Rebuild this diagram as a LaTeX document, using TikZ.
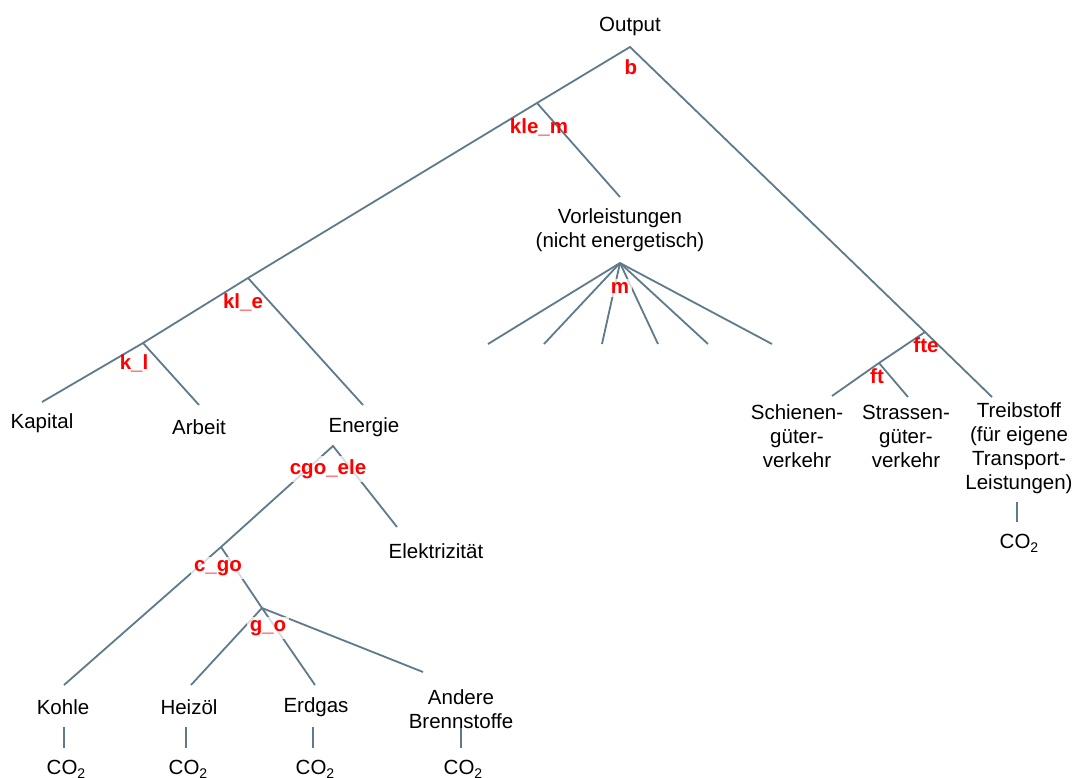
\documentclass[tikz,border=0pt]{standalone}
\usepackage{fontspec}
\setmainfont{Liberation Sans}
\definecolor{edgec}{RGB}{95,122,138}
\begin{document}
\begin{tikzpicture}[x=1pt,y=-1pt,
 edge/.style={draw=edgec,line width=1.8pt},
 txt/.style={font=\fontsize{20.5}{24}\selectfont,align=center,inner sep=0pt},
 par/.style={font=\fontsize{20.5}{24}\selectfont\bfseries,text=red,inner sep=1pt},
 parbg/.style={par,fill=white,fill opacity=0.75,text opacity=1,inner sep=3pt}]
\useasboundingbox[fill=white] (0,0) rectangle (1072,778);
\newcommand{\cotwo}{CO\raisebox{-0.35ex}{\fontsize{14}{14}\selectfont 2}}
% junctions and line ends
\coordinate (ob) at (630,47);
\coordinate (klem) at (537,103);
\coordinate (kle) at (248,278);
\coordinate (kl) at (143,343);
\coordinate (kapE) at (42,402);
\coordinate (arbE) at (199,405);
\coordinate (eneE) at (363,405);
\coordinate (vorE) at (620,197);
\coordinate (fa) at (620,263);
\coordinate (f1) at (488,344);
\coordinate (f2) at (544,344);
\coordinate (f3) at (602,344);
\coordinate (f4) at (658,344);
\coordinate (f5) at (708,344);
\coordinate (f6) at (772,344);
\coordinate (fte) at (925,332);
\coordinate (ft) at (879,363);
\coordinate (schE) at (832,396);
\coordinate (strE) at (908,397);
\coordinate (treE) at (992,397);
\coordinate (cgoele) at (333,446);
\coordinate (cgo) at (221,547);
\coordinate (go) at (262,608);
\coordinate (eleE) at (397,527);
\coordinate (kohE) at (64,685);
\coordinate (heiE) at (191,685);
\coordinate (erdE) at (315,685);
\coordinate (andE) at (423,672);
\coordinate (t1a) at (64,727); \coordinate (t1b) at (64,748);
\coordinate (t2a) at (186,727); \coordinate (t2b) at (186,748);
\coordinate (t3a) at (313,727); \coordinate (t3b) at (313,748);
\coordinate (t4a) at (461,727); \coordinate (t4b) at (461,748);
\coordinate (t5a) at (1017,502); \coordinate (t5b) at (1017,522);
% connectors
\draw[edge] (kapE) -- (kl) -- (kle) -- (klem) -- (ob) -- (fte) -- (treE);
\draw[edge] (kl) -- (arbE);
\draw[edge] (kle) -- (eneE);
\draw[edge] (klem) -- (vorE);
\foreach \e in {f1,f2,f3,f4,f5,f6} \draw[edge] (fa) -- (\e);
\draw[edge] (fte) -- (ft) -- (schE);
\draw[edge] (ft) -- (strE);
\draw[edge] (kohE) -- (cgo) -- (cgoele) -- (eleE);
\draw[edge] (cgo) -- (go);
\draw[edge] (go) -- (heiE);
\draw[edge] (go) -- (erdE);
\draw[edge] (go) -- (andE);
\foreach \i in {1,...,5} \draw[edge,line width=1.5pt] (t\i a) -- (t\i b);
% texts
\node[txt] (output) at (630,26) {Output};
\node[txt] (kapital) at (42,423) {Kapital};
\node[txt] (arbeit) at (199,427) {Arbeit};
\node[txt] (energie) at (364,427) {Energie};
\node[txt] (vorl) at (620,230) {Vorleistungen\\(nicht energetisch)};
\node[txt] (schiene) at (797,436) {Schienen-\\güter-\\verkehr};
\node[txt] (strasse) at (906,436) {Strassen-\\güter-\\verkehr};
\node[txt] (treib) at (1019,448) {Treibstoff\\(für eigene\\Transport-\\Leistungen)};
\node[txt] (elek) at (436,551) {Elektrizität};
\node[txt] (kohle) at (63,707) {Kohle};
\node[txt] (heizoel) at (189,707) {Heizöl};
\node[txt] (erdgas) at (316,707) {Erdgas};
\node[txt] (andere) at (461,709) {Andere\\Brennstoffe};
\node[txt] (co1) at (66,769) {\cotwo};
\node[txt] (co2) at (188,769) {\cotwo};
\node[txt] (co3) at (315,769) {\cotwo};
\node[txt] (co4) at (463,769) {\cotwo};
\node[txt] (co5) at (1019,543) {\cotwo};
% parameter labels
\node[par] (lb) at (631,67) {b};
\node[par] (lklem) at (539,127) {kle\_m};
\node[par] (lkle) at (243,302) {kl\_e};
\node[par] (lkl) at (134,363) {k\_l};
\node[parbg] (lm) at (620,288) {m};
\node[par] (lfte) at (926,345) {fte};
\node[par] (lft) at (877,376) {ft};
\node[parbg] (lcgoele) at (328,469) {cgo\_ele};
\node[parbg] (lcgo) at (218,568) {c\_go};
\node[parbg] (lgo) at (268,628) {g\_o};
\end{tikzpicture}
\end{document}
